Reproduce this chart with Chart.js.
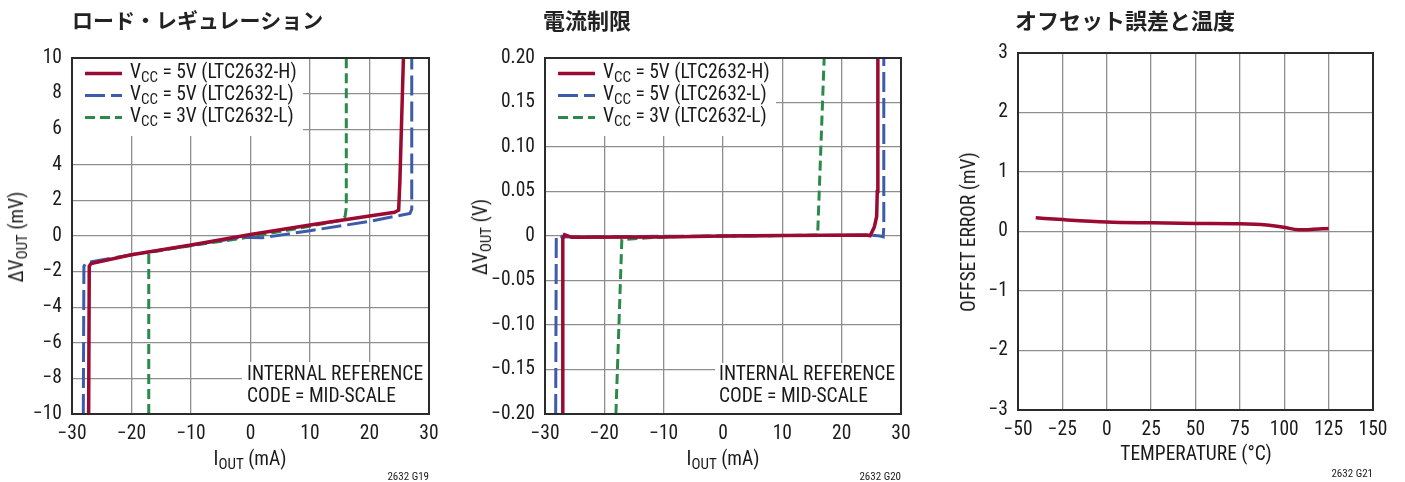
<!DOCTYPE html>
<html>
<head>
<meta charset="utf-8">
<script src="https://cdn.jsdelivr.net/npm/chart.js@4/dist/chart.umd.min.js"></script>
<style>
  body { margin: 0; width: 1405px; height: 482px; background: #fff; position: relative; overflow: hidden;
         font-family: 'Liberation Sans Narrow', 'Roboto Condensed', 'DejaVu Sans Condensed', 'Liberation Sans', sans-serif; color: #1a1a1a; }
  .panel { position: absolute; top: 0; height: 482px; }
  .panel canvas { position: absolute; left: 0; top: 0; }
  .title { position: absolute; top: 4px; font: bold 22px 'Noto Sans CJK JP', sans-serif; line-height: 30px; white-space: nowrap; color: #222; }
  .xt, .yt { position: absolute; font-size: 19.5px; white-space: nowrap; line-height: 20px; }
  .xt { transform: translate(-50%, -50%); }
  .yt { transform: translate(-50%, -50%) rotate(-90deg); }
  sub { font-size: 15px; vertical-align: -4px; line-height: 0; }
  .fig { position: absolute; font-size: 11px; transform: translate(-100%, -50%); white-space: nowrap; }
</style>
</head>
<body>
<div class="panel" style="left:0;width:470px">
  <canvas id="cLoad" width="470" height="482"></canvas>
  <div class="title" style="left:72px;font-size:21px">ロード・レギュレーション</div>
  <div class="yt" style="left:17px;top:237px">ΔV<sub>OUT</sub> (mV)</div>
  <div class="xt" style="left:250px;top:459px">I<sub>OUT</sub> (mA)</div>
  <div class="fig" style="left:429px;top:476px">2632 G19</div>
</div>
<div class="panel" style="left:470px;width:470px">
  <canvas id="cLimit" width="470" height="482"></canvas>
  <div class="title" style="left:73px">電流制限</div>
  <div class="yt" style="left:11px;top:237px">ΔV<sub>OUT</sub> (V)</div>
  <div class="xt" style="left:253px;top:459px">I<sub>OUT</sub> (mA)</div>
  <div class="fig" style="left:431px;top:476px">2632 G20</div>
</div>
<div class="panel" style="left:940px;width:465px">
  <canvas id="cOffset" width="465" height="482"></canvas>
  <div class="title" style="left:75px">オフセット誤差と温度</div>
  <div class="yt" style="left:29px;top:232px">OFFSET ERROR (mV)</div>
  <div class="xt" style="left:256px;top:454px">TEMPERATURE (°C)</div>
  <div class="fig" style="left:433px;top:473px">2632 G21</div>
</div>
<script>
const FONT = "'Liberation Sans Narrow', 'Roboto Condensed', 'DejaVu Sans Condensed', 'Liberation Sans', sans-serif";
Chart.defaults.font.family = FONT;
Chart.defaults.font.size = 19.5;
Chart.defaults.color = '#1a1a1a';

// series names for the legends (V_CC value, part number)
const seriesVcc = ['5V', '5V', '3V'];
const seriesPart = ['LTC2632-H', 'LTC2632-L', 'LTC2632-L'];
const noteLines = ['INTERNAL REFERENCE', 'CODE = MID-SCALE'];

// load regulation: I_OUT (mA) -> ΔV_OUT (mV)
const loadI_H = [-27.2, -27.1, -26.8, -20, -10, 0, 10, 20, 24.2, 24.9, 25.1, 25.7];
const loadV_H = [-10, -1.7, -1.55, -1.05, -0.5, 0.08, 0.62, 1.12, 1.33, 1.45, 3, 10];
const loadI_L5 = [-28.1, -28.0, -27.6, -20, -10, -2, 0, 2, 10, 20, 26.8, 27.1, 27.1];
const loadV_L5 = [-10, -1.7, -1.5, -1.05, -0.52, -0.1, -0.08, -0.1, 0.3, 0.82, 1.27, 1.5, 10];
const loadI_L3 = [-17.1, -17.1, -16.8, -10, 0, 10, 15.4, 15.9, 16.1, 16.1];
const loadV_L3 = [-10, -1.0, -0.9, -0.55, -0.05, 0.55, 0.9, 1.1, 1.6, 10];

// current limiting: I_OUT (mA) -> ΔV_OUT (V)
const limI_H = [-27.1, -27.0, -26.7, -25.5, -10, 0, 10, 24.3, 24.8, 25.5, 25.9, 26.0, 26.1];
const limV_H = [-0.2, -0.003, 0.0015, -0.0015, -0.001, 0, 0.0005, 0.001, 0.0003, 0.01, 0.022, 0.05, 0.2];
const limI_L5 = [-28.2, -28.1, -27.8, -27, 0, 25, 26.5, 27.0, 27.1, 27.1];
const limV_L5 = [-0.2, -0.002, 0.001, -0.001, 0, 0.001, 0, -0.001, 0.01, 0.2];
const limI_L3 = [-18.05, -17.05, -10, 0, 10, 15.95, 17.05];
const limV_L3 = [-0.2, -0.004, -0.001, 0, 0.0005, 0.001, 0.2];

// offset error vs temperature
const tempC = [-40, -25, 0, 25, 50, 75, 90, 100, 108, 115, 125];
const offsetMv = [0.23, 0.2, 0.16, 0.145, 0.135, 0.13, 0.11, 0.07, 0.03, 0.035, 0.05];

const RED = '#9b0a30', BLUE = '#3c5cab', GREEN = '#2b8a4b';
const pts = (xs, ys) => xs.map((x, i) => ({ x: x, y: ys[i] }));
const fmt = v => String(v).replace('-', '\u2212');

// draws "V" + subscript "CC" + rest on one baseline
function drawLabel(ctx, vcc, part, x, y) {
  const pieces = [['V', 19.5, 0], ['CC', 15, 5], [' = ' + vcc + ' (' + part + ')', 19.5, 0]];
  ctx.textBaseline = 'middle';
  pieces.forEach(p => {
    ctx.font = p[1] + 'px ' + FONT;
    ctx.fillText(p[0], x, y + p[2]);
    x += ctx.measureText(p[0]).width;
  });
}

const panelDecor = {
  id: 'panelDecor',
  beforeDatasetsDraw(chart, args, opts) {
    const ctx = chart.ctx, a = chart.chartArea;
    ctx.save();
    if (opts.legend) {
      ctx.fillStyle = '#fff';
      ctx.fillRect(a.left + 1, a.top + 1, opts.legendW, opts.legendH);
      chart.data.datasets.forEach((ds, i) => {
        const y = a.top + 15.5 + i * 22;
        ctx.strokeStyle = ds.borderColor;
        ctx.lineWidth = ds.borderWidth;
        ctx.setLineDash(ds.borderDash || []);
        ctx.beginPath(); ctx.moveTo(a.left + 13, y); ctx.lineTo(a.left + 50, y); ctx.stroke();
        ctx.setLineDash([]);
        ctx.fillStyle = '#1a1a1a';
        drawLabel(ctx, seriesVcc[i], seriesPart[i], a.left + 58, y);
      });
    }
    if (opts.note) {
      ctx.fillStyle = '#fff';
      ctx.fillRect(a.right - opts.noteW, a.bottom - opts.noteH, opts.noteW - 1, opts.noteH - 1);
      ctx.fillStyle = '#1a1a1a';
      ctx.textBaseline = 'middle';
      ctx.font = '19.5px ' + FONT;
      noteLines.forEach((t, i) => ctx.fillText(t, a.right - 182, a.bottom - 38.5 + i * 21.5));
    }
    ctx.restore();
  },
  afterDatasetsDraw(chart) {
    const ctx = chart.ctx, a = chart.chartArea;
    ctx.save();
    ctx.strokeStyle = '#2b2b2b';
    ctx.lineWidth = 2;
    ctx.strokeRect(a.left, a.top, a.right - a.left, a.bottom - a.top);
    ctx.restore();
  }
};

function line(data, color, width, dash) {
  return { data: data, borderColor: color, borderWidth: width, borderDash: dash, pointRadius: 0, tension: 0, fill: false };
}

function axes(xMin, xMax, xStep, yMin, yMax, yStep, yWidth, yFmt) {
  const grid = { color: '#8e8e8e', lineWidth: 1.3, drawTicks: false };
  return {
    x: {
      type: 'linear', min: xMin, max: xMax, grid: grid, border: { display: false },
      ticks: { stepSize: xStep, padding: 8, maxRotation: 0, callback: fmt },
      afterFit: s => { s.height = 30; }
    },
    y: {
      type: 'linear', min: yMin, max: yMax, grid: grid, border: { display: false },
      ticks: { stepSize: yStep, padding: 10, callback: yFmt || fmt },
      afterFit: s => { s.width = yWidth; }
    }
  };
}

const baseOpts = {
  responsive: false,
  animation: false,
  plugins: { legend: { display: false }, tooltip: { enabled: false } }
};

// ロード・レギュレーション
new Chart(document.getElementById('cLoad'), {
  type: 'line',
  data: { datasets: [
    line(pts(loadI_H, loadV_H), RED, 3.5, []),
    line(pts(loadI_L5, loadV_L5), BLUE, 3, [20, 6]),
    line(pts(loadI_L3, loadV_L3), GREEN, 3, [10, 5])
  ] },
  options: Object.assign({}, baseOpts, {
    layout: { padding: { left: 0, top: 58, right: 41, bottom: 38 } },
    scales: axes(-30, 30, 10, -10, 10, 2, 72),
    plugins: Object.assign({}, baseOpts.plugins, {
      panelDecor: { legend: true, legendW: 230, legendH: 77, note: true, noteW: 187, noteH: 52 }
    })
  }),
  plugins: [panelDecor]
});

// 電流制限
new Chart(document.getElementById('cLimit'), {
  type: 'line',
  data: { datasets: [
    line(pts(limI_H, limV_H), RED, 3.5, []),
    line(pts(limI_L5, limV_L5), BLUE, 3, [20, 6]),
    line(pts(limI_L3, limV_L3), GREEN, 3, [10, 5])
  ] },
  options: Object.assign({}, baseOpts, {
    layout: { padding: { left: 0, top: 58, right: 39, bottom: 38 } },
    scales: axes(-30, 30, 10, -0.2, 0.2, 0.05, 75,
      v => Math.abs(v) < 1e-9 ? '0' : fmt(v.toFixed(2))),
    plugins: Object.assign({}, baseOpts.plugins, {
      panelDecor: { legend: true, legendW: 230, legendH: 77, note: true, noteW: 186, noteH: 51 }
    })
  }),
  plugins: [panelDecor]
});

// オフセット誤差と温度
const offsetSet = line(pts(tempC, offsetMv), RED, 3.5, []);
offsetSet.cubicInterpolationMode = 'monotone';
new Chart(document.getElementById('cOffset'), {
  type: 'line',
  data: { datasets: [offsetSet] },
  options: Object.assign({}, baseOpts, {
    layout: { padding: { left: 0, top: 53, right: 32, bottom: 42 } },
    scales: axes(-50, 150, 25, -3, 3, 1, 78),
    plugins: Object.assign({}, baseOpts.plugins, { panelDecor: {} })
  }),
  plugins: [panelDecor]
});
</script>
</body>
</html>
